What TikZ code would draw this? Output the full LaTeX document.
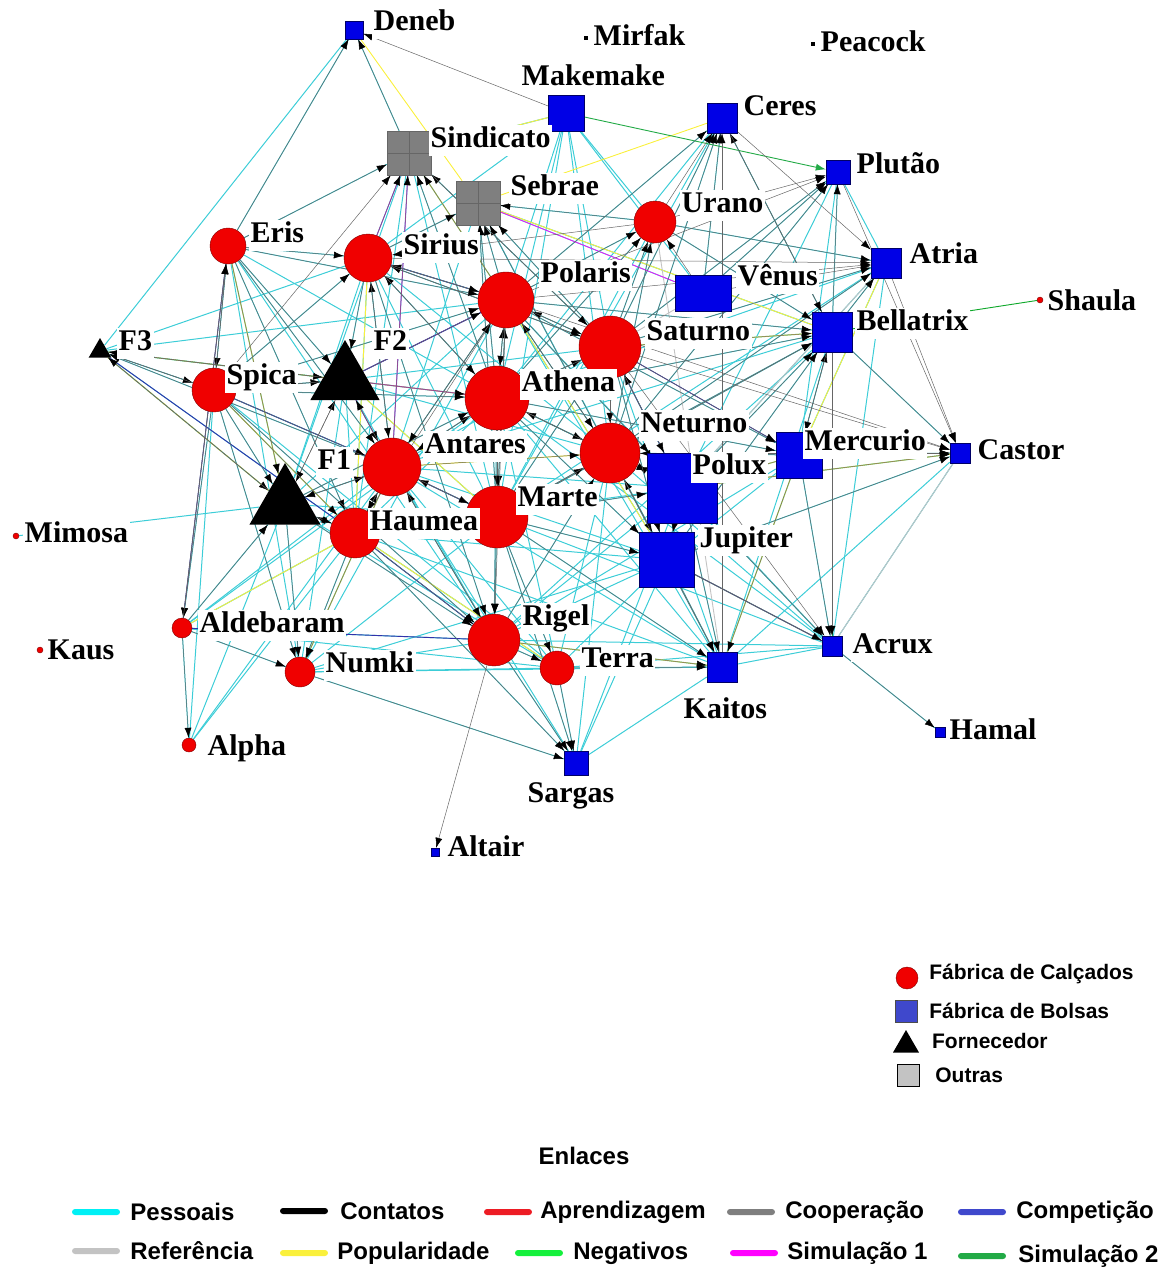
\documentclass[tikz,border=0pt]{standalone}
\usepackage{fontspec}
\setmainfont{Liberation Serif}
\newfontfamily\legfont{Liberation Sans}
\usetikzlibrary{shapes.geometric,arrows.meta,positioning,backgrounds}
\definecolor{calcado}{RGB}{240,0,0}
\definecolor{bolsa}{RGB}{0,0,230}
\definecolor{bolsaleg}{RGB}{63,72,204}
\definecolor{pessoal}{RGB}{60,205,215}
\definecolor{pessoalleg}{RGB}{0,240,245}
\definecolor{aprend}{RGB}{237,28,36}
\definecolor{cooper}{RGB}{127,127,127}
\definecolor{compet}{RGB}{50,50,170}
\definecolor{competleg}{RGB}{63,72,204}
\definecolor{refer}{RGB}{195,195,195}
\definecolor{popul}{RGB}{250,240,60}
\definecolor{negat}{RGB}{20,240,60}
\definecolor{simum}{RGB}{255,0,255}
\definecolor{simdois}{RGB}{34,170,70}

\begin{document}
\begin{tikzpicture}[x=1pt,y=-1pt,
  fabcalc/.style={circle, draw=red!50!black, fill=calcado, inner sep=0pt},
  fabbolsa/.style={rectangle, draw=blue!40!black, fill=bolsa, inner sep=0pt},
  fornec/.style={regular polygon, regular polygon sides=3, fill=black, inner sep=0pt},
  outras/.style={rectangle, draw=black!60, fill=cooper, inner sep=0pt,
    path picture={\draw[black!60, line width=1pt] (path picture bounding box.north) -- (path picture bounding box.south)
      (path picture bounding box.west) -- (path picture bounding box.east);}},
  ponto/.style={rectangle, fill=black, minimum size=4pt, inner sep=0pt},
  pontov/.style={circle, draw=red!50!black, fill=calcado, minimum size=6pt, inner sep=0pt},
  rotulo/.style={anchor=west, fill=white, inner sep=1.5pt, text height=21pt, text depth=7pt,
    font=\fontsize{30}{32}\selectfont\bfseries},
  pes/.style={pessoal, line width=1pt},
  con/.style={black!60, line width=0.5pt, -{Latex[length=10pt,width=7pt,color=black]}},
  pop/.style={popul, line width=0.9pt},
  comp/.style={compet, line width=0.9pt},
  amostra/.style={rectangle, rounded corners=3pt, minimum width=48pt, minimum height=6pt, inner sep=0pt},
  legtxt/.style={font=\legfont\fontsize{24}{26}\selectfont\bfseries, inner sep=0pt},
  legtipo/.style={font=\legfont\fontsize{21}{23}\selectfont\bfseries, inner sep=0pt}
]
\useasboundingbox (0,0) rectangle (1175,1272);

\node[fabbolsa, minimum size=18pt] (deneb) at (354,30) {};
\node[ponto] (mirfak) at (586,38) {};
\node[ponto] (peacock) at (813,44) {};
\node[fabbolsa, minimum size=36pt] (makemake) at (566,113) {};
\node[fabbolsa, minimum size=30pt] (ceres) at (722,118) {};
\node[fabbolsa, minimum size=24pt] (plutao) at (838,172) {};
\node[outras, minimum size=44pt] (sindicato) at (409,153) {};
\node[outras, minimum size=44pt] (sebrae) at (478,203) {};
\node[fabcalc, minimum size=42pt] (urano) at (655,222) {};
\node[fabcalc, minimum size=36pt] (eris) at (228,246) {};
\node[fabcalc, minimum size=48pt] (sirius) at (368,258) {};
\node[fabcalc, minimum size=56pt] (polaris) at (506,300) {};
\node[fabbolsa, minimum width=56pt, minimum height=36pt] (venus) at (703,293) {};
\node[fabbolsa, minimum size=30pt] (atria) at (886,263) {};
\node[pontov] (shaula) at (1040,300) {};
\node[fabbolsa, minimum size=40pt] (bellatrix) at (832,332) {};
\node[fabcalc, minimum size=62pt] (saturno) at (610,347) {};
\node[fornec, minimum size=26pt] (fthree) at (100,351) {};
\node[fornec, minimum size=80pt] (ftwo) at (345,380) {};
\node[fabcalc, minimum size=44pt] (spica) at (214,390) {};
\node[fabcalc, minimum size=64pt] (athena) at (497,398) {};
\node[fabcalc, minimum size=60pt] (neturno) at (610,453) {};
\node[fabbolsa, minimum size=46pt] (mercurio) at (799,455) {};
\node[fabbolsa, minimum size=20pt] (castor) at (960,453) {};
\node[fabbolsa, minimum size=70pt] (polux) at (682,488) {};
\node[fabcalc, minimum size=58pt] (antares) at (392,467) {};
\node[fornec, minimum size=82pt] (fone) at (285,504) {};
\node[fabcalc, minimum size=62pt] (marte) at (497,517) {};
\node[fabcalc, minimum size=50pt] (haumea) at (355,533) {};
\node[pontov] (mimosa) at (16,536) {};
\node[fabbolsa, minimum size=55pt] (jupiter) at (667,560) {};
\node[fabcalc, minimum size=20pt] (aldebaram) at (182,628) {};
\node[pontov] (kaus) at (40,650) {};
\node[fabcalc, minimum size=52pt] (rigel) at (494,640) {};
\node[fabbolsa, minimum size=20pt] (acrux) at (832,646) {};
\node[fabcalc, minimum size=30pt] (numki) at (300,672) {};
\node[fabcalc, minimum size=34pt] (terra) at (557,668) {};
\node[fabbolsa, minimum size=30pt] (kaitos) at (722,667) {};
\node[fabbolsa, minimum size=10pt] (hamal) at (940,732) {};
\node[fabcalc, minimum size=14pt] (alpha) at (189,745) {};
\node[fabbolsa, minimum size=24pt] (sargas) at (576,763) {};
\node[fabbolsa, minimum size=8pt] (altair) at (435,852) {};

\begin{scope}[on background layer]
\foreach \a/\b in {deneb/eris, deneb/sindicato, deneb/fthree, sindicato/eris, sindicato/sirius, sindicato/polaris,
  sindicato/athena, sindicato/antares, sindicato/saturno, sindicato/makemake, sebrae/polaris, sebrae/athena,
  sebrae/saturno, sebrae/neturno, sebrae/urano, sebrae/venus, sebrae/bellatrix, makemake/polaris, makemake/saturno,
  makemake/athena, makemake/neturno, makemake/urano, makemake/venus, ceres/saturno, ceres/athena, ceres/polaris,
  ceres/bellatrix, ceres/venus, plutao/bellatrix, plutao/venus, plutao/mercurio, plutao/saturno, urano/polaris,
  urano/atria, urano/bellatrix, urano/neturno, eris/spica, eris/antares, eris/haumea, eris/fone, eris/athena,
  eris/polaris, sirius/polaris, sirius/athena, sirius/antares, sirius/marte, sirius/haumea, sirius/neturno,
  sirius/saturno, polaris/athena, polaris/saturno, polaris/neturno, polaris/marte, polaris/antares,
  polaris/bellatrix, polaris/mercurio, polaris/polux, polaris/jupiter, atria/bellatrix, atria/saturno,
  atria/neturno, atria/mercurio, atria/polux, bellatrix/saturno, bellatrix/neturno, bellatrix/polux,
  bellatrix/mercurio, bellatrix/jupiter, bellatrix/castor, bellatrix/kaitos, bellatrix/athena, bellatrix/rigel,
  saturno/athena, saturno/neturno, saturno/polux, saturno/jupiter, saturno/marte, saturno/antares,
  fthree/spica, fthree/ftwo, fthree/fone, fthree/antares, fthree/athena, ftwo/spica, ftwo/antares, ftwo/athena,
  ftwo/polaris, ftwo/haumea, ftwo/marte, spica/fone, spica/antares, spica/haumea, spica/aldebaram, spica/rigel,
  spica/athena, spica/numki, athena/neturno, athena/marte, athena/antares, athena/polux, athena/jupiter,
  athena/rigel, athena/haumea, athena/mercurio, neturno/polux, neturno/jupiter, neturno/marte, neturno/mercurio,
  neturno/castor, neturno/rigel, neturno/kaitos, neturno/terra, mercurio/castor, mercurio/polux,
  mercurio/jupiter, mercurio/acrux, mercurio/kaitos, castor/polux, castor/acrux, polux/jupiter,
  polux/marte, polux/kaitos, polux/rigel, polux/acrux, antares/marte, antares/haumea, antares/fone, antares/rigel,
  antares/numki, antares/aldebaram, antares/jupiter, fone/haumea, fone/aldebaram, fone/numki, fone/rigel,
  fone/marte, marte/haumea, marte/jupiter, marte/rigel, marte/terra, marte/kaitos, marte/sargas, haumea/aldebaram,
  haumea/numki, haumea/rigel, haumea/terra, haumea/alpha, mimosa/fone, jupiter/kaitos, jupiter/acrux,
  jupiter/rigel, jupiter/terra, aldebaram/alpha, aldebaram/numki, aldebaram/rigel, rigel/terra, rigel/sargas,
  rigel/kaitos, rigel/numki, numki/terra, numki/sargas, terra/kaitos, terra/sargas, acrux/hamal, acrux/kaitos,
  sargas/kaitos, haumea/sargas, antares/sargas, spica/alpha, fthree/polaris,
  polaris/kaitos, athena/kaitos, saturno/kaitos, sebrae/jupiter, sindicato/marte, sindicato/haumea,
  sindicato/fone, eris/rigel, eris/numki, spica/terra, fone/terra, ftwo/rigel, ftwo/numki, haumea/kaitos,
  antares/kaitos, athena/terra, atria/acrux, castor/jupiter, castor/kaitos, mercurio/rigel, athena/acrux,
  polaris/acrux, bellatrix/marte, bellatrix/antares, atria/athena, atria/marte, urano/athena, urano/saturno,
  urano/marte, ceres/neturno, ceres/marte, makemake/marte, makemake/sirius, sebrae/sirius, sebrae/antares,
  sebrae/marte, sirius/fone, sirius/rigel, eris/sirius, eris/ftwo, fthree/haumea, fthree/sirius, spica/sirius,
  spica/polaris, ftwo/sirius, ftwo/neturno, ftwo/saturno, antares/polux, antares/terra, marte/numki,
  marte/acrux, haumea/jupiter, haumea/polux, fone/athena, fone/polaris, aldebaram/terra, aldebaram/athena,
  numki/polaris, numki/jupiter, numki/kaitos, rigel/acrux, terra/acrux, sargas/jupiter, sargas/neturno,
  sargas/polux, alpha/fone, alpha/antares, neturno/acrux, plutao/neturno, plutao/polux, plutao/atria}
  \draw[pes] (\a) -- (\b);
\foreach \a/\b in {deneb/sebrae, ceres/sebrae, makemake/sindicato, sindicato/polaris, sirius/haumea, spica/haumea,
  eris/fone, ftwo/marte, antares/neturno, polux/mercurio, bellatrix/saturno, jupiter/acrux, rigel/kaitos,
  mercurio/kaitos, polaris/jupiter, haumea/terra, sebrae/bellatrix, atria/mercurio, fthree/athena,
  aldebaram/haumea, numki/antares, polux/castor}
  \draw[pop] (\a) -- (\b);
\draw[pop, densely dotted, line width=1.4pt] (fthree) -- (fone);
\foreach \a/\b in {urano/kaitos, mercurio/castor, castor/acrux, venus/saturno, atria/polux}
  \draw[refer, line width=0.9pt] (\a) -- (\b);
\foreach \a/\b in {sebrae/venus, sindicato/antares, sindicato/sirius, ftwo/antares, athena/ftwo, polaris/ftwo}
  \draw[simum, line width=0.7pt] (\a) -- (\b);
\foreach \a/\b in {eris/aldebaram, aldebaram/rigel, jupiter/acrux, fthree/haumea, ftwo/polaris, sirius/polaris,
  polux/saturno, antares/marte, haumea/rigel, mercurio/saturno, spica/antares}
  \draw[comp] (\a) -- (\b);
\draw[simdois, line width=0.9pt, -{Latex[length=10pt,width=7pt]}] (makemake) -- (plutao);
\draw[simdois, line width=0.9pt] (bellatrix) -- (acrux);
\draw[negat!70!black, line width=0.9pt] (shaula) -- (bellatrix);
\foreach \a/\b in {makemake/deneb, eris/deneb, sindicato/deneb,
  sirius/sindicato, polaris/sindicato, athena/sindicato, antares/sindicato, eris/sindicato, saturno/sindicato,
  spica/sindicato, polaris/sebrae, saturno/sebrae, athena/sebrae, neturno/sebrae, sirius/sebrae, marte/sebrae,
  urano/sebrae, eris/sirius, polaris/sirius, antares/sirius, spica/sirius, athena/sirius, saturno/sirius,
  urano/sirius, saturno/ceres, polaris/ceres, urano/ceres, venus/ceres, bellatrix/ceres, neturno/ceres,
  kaitos/ceres, polaris/urano, saturno/urano, venus/urano, athena/urano, neturno/urano, urano/atria, ceres/atria,
  saturno/atria, venus/atria, polaris/atria, neturno/atria, bellatrix/atria, sirius/atria, urano/plutao,
  venus/plutao, saturno/plutao, bellatrix/plutao, neturno/plutao, polaris/plutao, ceres/bellatrix,
  urano/bellatrix, saturno/bellatrix, neturno/bellatrix, polux/bellatrix, athena/bellatrix, mercurio/bellatrix,
  jupiter/bellatrix, polaris/bellatrix, marte/bellatrix, neturno/castor, mercurio/castor, polux/castor,
  bellatrix/castor, plutao/castor, atria/castor, jupiter/castor, saturno/castor, polaris/castor,
  sirius/polaris, eris/polaris, ftwo/polaris, spica/polaris, antares/polaris, athena/polaris, saturno/polaris,
  marte/polaris, haumea/polaris, neturno/polaris, polaris/saturno, athena/saturno, neturno/saturno,
  sirius/saturno, sindicato/saturno, marte/saturno, polux/saturno, polaris/athena, ftwo/athena, antares/athena,
  saturno/athena, neturno/athena, marte/athena, sirius/athena, spica/athena, fone/athena, athena/neturno,
  saturno/neturno, marte/neturno, antares/neturno, polaris/neturno, polux/neturno, jupiter/neturno,
  mercurio/neturno, rigel/neturno, fone/antares, ftwo/antares, spica/antares, haumea/antares, athena/antares,
  marte/antares, polaris/antares, sirius/antares, eris/antares, rigel/antares, fthree/ftwo, spica/ftwo,
  eris/ftwo, sirius/ftwo, fone/ftwo, antares/ftwo, spica/fone, haumea/fone, eris/fone, antares/fone,
  aldebaram/fone, ftwo/fone, fthree/fone, eris/spica, fthree/spica, ftwo/spica, spica/fthree, fone/fthree,
  ftwo/fthree, antares/fthree, fone/haumea, antares/haumea, marte/haumea, spica/haumea, eris/haumea,
  antares/marte, athena/marte, neturno/marte, haumea/marte, polaris/marte, neturno/polux, athena/polux,
  saturno/polux, polaris/polux, marte/polux, mercurio/polux, neturno/jupiter, polux/jupiter, marte/jupiter,
  athena/jupiter, saturno/jupiter, haumea/rigel, antares/rigel, marte/rigel, fone/rigel, polaris/rigel,
  athena/rigel, spica/rigel, sirius/rigel, neturno/kaitos, jupiter/kaitos, polux/kaitos, mercurio/kaitos,
  rigel/kaitos, marte/kaitos, terra/kaitos, polux/acrux, jupiter/acrux, mercurio/acrux, bellatrix/acrux,
  saturno/acrux, aldebaram/numki, spica/numki, haumea/numki, fone/numki, antares/numki, rigel/terra,
  marte/terra, rigel/sargas, terra/sargas, numki/sargas, marte/sargas, haumea/sargas, spica/aldebaram,
  eris/aldebaram, aldebaram/alpha, rigel/altair, acrux/hamal, saturno/mercurio, polaris/mercurio,
  bellatrix/mercurio, athena/mercurio, spica/eris, aldebaram/eris}
  \draw[con] (\a) -- (\b);
\end{scope}

\node[rotulo] at (372,23) {Deneb};
\node[rotulo] at (592,38) {Mirfak};
\node[rotulo] at (819,44) {Peacock};
\node[rotulo] at (520,78) {Makemake};
\node[rotulo] at (742,108) {Ceres};
\node[rotulo] at (855,166) {Plutão};
\node[rotulo] at (429,140) {Sindicato};
\node[rotulo] at (509,188) {Sebrae};
\node[rotulo] at (680,205) {Urano};
\node[rotulo] at (249,235) {Eris};
\node[rotulo] at (402,247) {Sirius};
\node[rotulo] at (539,275) {Polaris};
\node[rotulo] at (736,278) {Vênus};
\node[rotulo] at (908,256) {Atria};
\node[rotulo] at (1046,303) {Shaula};
\node[rotulo] at (855,323) {Bellatrix};
\node[rotulo] at (645,333) {Saturno};
\node[rotulo] at (117,343) {F3};
\node[rotulo] at (372,343) {F2};
\node[rotulo] at (225,377) {Spica};
\node[rotulo] at (520,384) {Athena};
\node[rotulo] at (639,425) {Neturno};
\node[rotulo] at (803,443) {Mercurio};
\node[rotulo] at (976,452) {Castor};
\node[rotulo] at (691,467) {Polux};
\node[rotulo] at (423,446) {Antares};
\node[rotulo] at (316,462) {F1};
\node[rotulo] at (516,499) {Marte};
\node[rotulo] at (368,523) {Haumea};
\node[rotulo] at (23,535) {Mimosa};
\node[rotulo] at (698,540) {Jupiter};
\node[rotulo] at (198,625) {Aldebaram};
\node[rotulo] at (46,652) {Kaus};
\node[rotulo] at (521,618) {Rigel};
\node[rotulo] at (851,646) {Acrux};
\node[rotulo] at (324,665) {Numki};
\node[rotulo] at (580,660) {Terra};
\node[rotulo] at (682,711) {Kaitos};
\node[rotulo] at (948,732) {Hamal};
\node[rotulo] at (206,748) {Alpha};
\node[rotulo] at (526,795) {Sargas};
\node[rotulo] at (446,849) {Altair};

\node[fabcalc, minimum size=22pt] (lcalc) at (907,978) {};
\node[legtipo, right=11pt of lcalc, yshift=4pt] {Fábrica de Calçados};
\node[fabbolsa, draw=black!70, fill=bolsaleg, minimum size=22pt] (lbolsa) at (906,1011) {};
\node[legtipo, right=12pt of lbolsa] {Fábrica de Bolsas};
\node[fornec, minimum size=30pt] (lforn) at (906,1045) {};
\node[legtipo, right=17pt of lforn, yshift=4pt] {Fornecedor};
\node[rectangle, draw=black, fill=refer, minimum size=22pt, inner sep=0pt] (loutras) at (908,1075) {};
\node[legtipo, right=16pt of loutras] {Outras};

\node[legtxt] (enlaces) at (584,1156) {Enlaces};
\foreach \n/\x/\y/\c in {a/96/1212/pessoalleg, b/304/1211/black, c/508/1212/aprend, d/751/1212/cooper,
  e/982/1212/competleg, f/96/1251/refer, g/304/1253/popul, h/539/1253/negat, i/754/1253/simum, j/982/1256/simdois}
  \node[amostra, fill=\c] (s\n) at (\x,\y) {};
\node[legtxt, right=10pt of sa] {Pessoais};
\node[legtxt, right=12pt of sb] {Contatos};
\node[legtxt, right=8pt of sc] {Aprendizagem};
\node[legtxt, right=10pt of sd] {Cooperação};
\node[legtxt, right=10pt of se] {Competição};
\node[legtxt, right=10pt of sf] {Referência};
\node[legtxt, right=9pt of sg] {Popularidade};
\node[legtxt, right=10pt of sh] {Negativos};
\node[legtxt, right=9pt of si] {Simulação 1};
\node[legtxt, right=12pt of sj] {Simulação 2};
\end{tikzpicture}
\end{document}
